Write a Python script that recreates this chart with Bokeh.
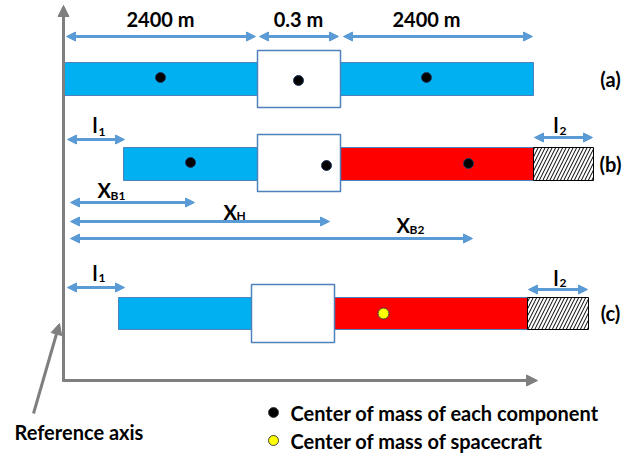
from bokeh.plotting import figure
from bokeh.models import Range1d, Arrow, NormalHead
from bokeh.core.properties import value
from bokeh.embed import file_html
from bokeh.resources import INLINE

FONT = value("Lato")

# ---- geometry of the diagram (screen-like coordinates, y grows downward) ----
# bars: left, right, top, bottom, fill
bar_left = [63, 340, 123, 340, 118, 334]
bar_right = [257, 533, 257, 533, 251, 527]
bar_top = [62, 62, 147, 147, 297, 297]
bar_bottom = [95, 95, 180, 180, 329, 329]
bar_color = ["#00B0F0", "#00B0F0", "#00B0F0", "#FF0000", "#00B0F0", "#FF0000"]

# central boxes
box_left = [257, 257, 251]
box_right = [340, 340, 334]
box_top = [50, 134, 284]
box_bottom = [107, 191, 342]

# hatched end pieces
hat_left = [533, 527]
hat_right = [593, 588]
hat_top = [147, 297]
hat_bottom = [180, 329]

# centres of mass of components
com_x = [160, 298, 426, 190, 326, 468]
com_y = [77, 80, 77, 162, 165, 163]
# centre of mass of spacecraft
sc_x = [383]
sc_y = [313]

# blue double arrows
arr_x0 = [66, 259, 343, 67, 534, 70, 70, 70, 67, 528]
arr_x1 = [255, 338, 532, 124, 592, 194, 329, 472, 124, 587]
arr_y = [36, 36, 36, 139, 137, 202, 221, 238, 287, 289]

# labels
lab_text = ["2400 m", "0.3 m", "2400 m", "(a)", "(b)", "(c)"]
lab_x = [160, 298, 426, 610, 610, 610]
lab_y = [18, 18, 18, 78, 163, 312]

# subscripted labels: main, subscript
sub_main = ["l", "l", "X", "X", "X", "l", "l"]
sub_sub = ["1", "2", "B1", "H", "B2", "1", "2"]
sub_x = [92, 553, 97, 223, 396, 92, 553]
sub_y = [124, 124, 189, 211, 224, 272, 277]
sub_dy = [7, 6, 6, 4, 5, 5, 5]

legend_text = ["Center of mass of each component", "Center of mass of spacecraft"]
legend_x = [273, 273]
legend_y = [412, 440]
legend_fill = ["#000000", "#FFFF00"]

p = figure(width=639, height=461, x_range=Range1d(0, 639), y_range=Range1d(461, 0),
           output_backend="svg", toolbar_location=None, min_border=0)
p.axis.visible = False
p.grid.visible = False
p.outline_line_color = None
p.background_fill_color = "white"

# gray reference axes
gray = "#7F7F7F"
for (xs, ys, xe, ye) in [(63, 381, 63, 5), (62, 380, 537, 380), (33, 413, 59, 323)]:
    p.add_layout(Arrow(end=NormalHead(size=11, fill_color=gray, line_color=gray),
                       x_start=xs, y_start=ys, x_end=xe, y_end=ye,
                       line_color=gray, line_width=3))

p.quad(left=bar_left, right=bar_right, top=bar_top, bottom=bar_bottom,
       fill_color=bar_color, line_color="#4F81BD", line_width=1)
p.quad(left=box_left, right=box_right, top=box_top, bottom=box_bottom,
       fill_color="white", line_color="#4F81BD", line_width=1.5)
p.quad(left=hat_left, right=hat_right, top=hat_top, bottom=hat_bottom,
       fill_color="white", line_color="black", line_width=1,
       hatch_pattern="/", hatch_color="black", hatch_scale=7, hatch_weight=1)

p.scatter(com_x, com_y, size=10, fill_color="black", line_color="#1F3864")
p.scatter(sc_x, sc_y, size=11, fill_color="#FFFF00", line_color="#404040")

blue = "#5B9BD5"
for x0, x1, y in zip(arr_x0, arr_x1, arr_y):
    p.add_layout(Arrow(start=NormalHead(size=9, fill_color=blue, line_color=blue),
                       end=NormalHead(size=9, fill_color=blue, line_color=blue),
                       x_start=x0, y_start=y, x_end=x1, y_end=y,
                       line_color=blue, line_width=3))

p.text(lab_x, lab_y, text=lab_text, text_font=FONT, text_font_style="bold",
       text_font_size="20px", text_align="center", text_baseline="middle", text_color="black")

p.text(sub_x, sub_y, text=sub_main, text_font=FONT, text_font_style="bold",
       text_font_size="20px", text_align="left", text_baseline="middle", text_color="black")
sx = [x + (6 if m == "l" else 13) for x, m in zip(sub_x, sub_main)]
sy = [y + d for y, d in zip(sub_y, sub_dy)]
p.text(sx, sy, text=sub_sub, text_font=FONT, text_font_style="bold", text_font_size="12px",
       text_align="left", text_baseline="middle", text_color="black")

p.scatter(legend_x, legend_y, size=10, fill_color=legend_fill, line_color="#404040")
p.text([x + 17 for x in legend_x], legend_y, text=legend_text, text_font=FONT,
       text_font_style="bold", text_font_size="20px", text_align="left",
       text_baseline="middle", text_color="black")

p.text([14], [431], text=["Reference axis"], text_font=FONT, text_font_style="bold",
       text_font_size="20px", text_align="left", text_baseline="middle", text_color="black")

open("out.html", "w").write(file_html(p, INLINE))
